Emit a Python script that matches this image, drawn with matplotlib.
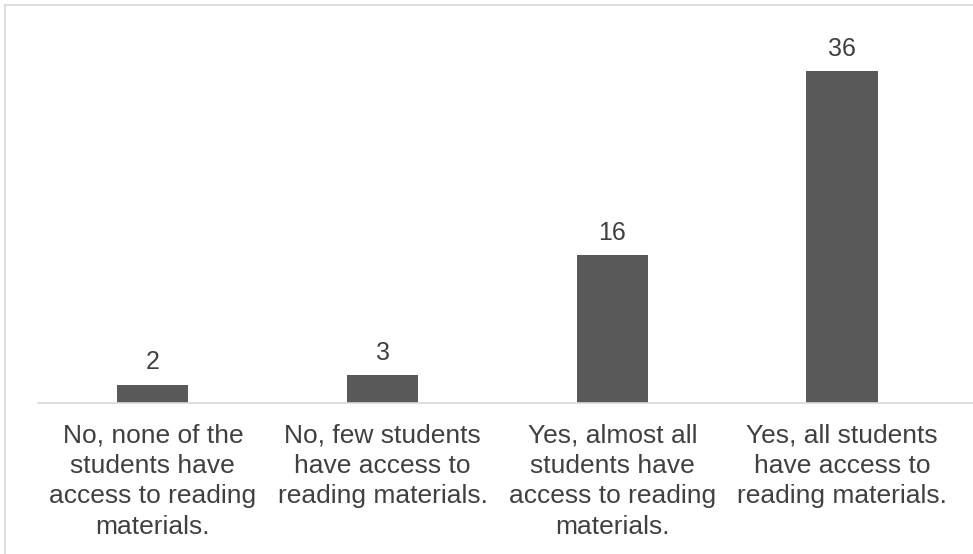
import numpy as np
import matplotlib.pyplot as plt
from matplotlib.lines import Line2D

plt.rcParams['font.family'] = ['Liberation Sans', 'DejaVu Sans']

categories = ["No, none of the\nstudents have\naccess to reading\nmaterials.",
              "No, few students\nhave access to\nreading materials.",
              "Yes, almost all\nstudents have\naccess to reading\nmaterials.",
              "Yes, all students\nhave access to\nreading materials."]
counts = [2, 3, 16, 36]

W, H = 973, 554
fig = plt.figure(figsize=(W/100, H/100), dpi=100)
# axes in pixel coords: left 38, right 973, baseline 403, top 30
ax = fig.add_axes([38/W, 1-403/H, (973-38)/W, (403-30)/H])

x = np.arange(len(counts))
ax.bar(x, counts, width=0.31, color='#595959')
for xi, v in zip(x, counts):
    ax.text(xi, v + 1.1, str(v), ha='center', va='bottom', fontsize=18, color='#404040')

ax.set_xlim(-0.5, 3.57)
ax.set_ylim(0, 40.45)
ax.set_yticks([])
ax.set_xticks(x)
ax.set_xticklabels(categories, fontsize=19, color='#404040', linespacing=1.33)
ax.tick_params(axis='x', length=0, pad=15)
for s in ['top', 'right', 'left']:
    ax.spines[s].set_visible(False)
ax.spines['bottom'].set_color('#d9d9d9')
ax.spines['bottom'].set_linewidth(1.2)

# outer chart border (top and left visible)
fig.add_artist(Line2D([5/W, 1], [1-5/H, 1-5/H], color='#d9d9d9', lw=1.2))
fig.add_artist(Line2D([5/W, 5/W], [0, 1-5/H], color='#d9d9d9', lw=1.2))

fig.savefig('out.png', dpi=100)
